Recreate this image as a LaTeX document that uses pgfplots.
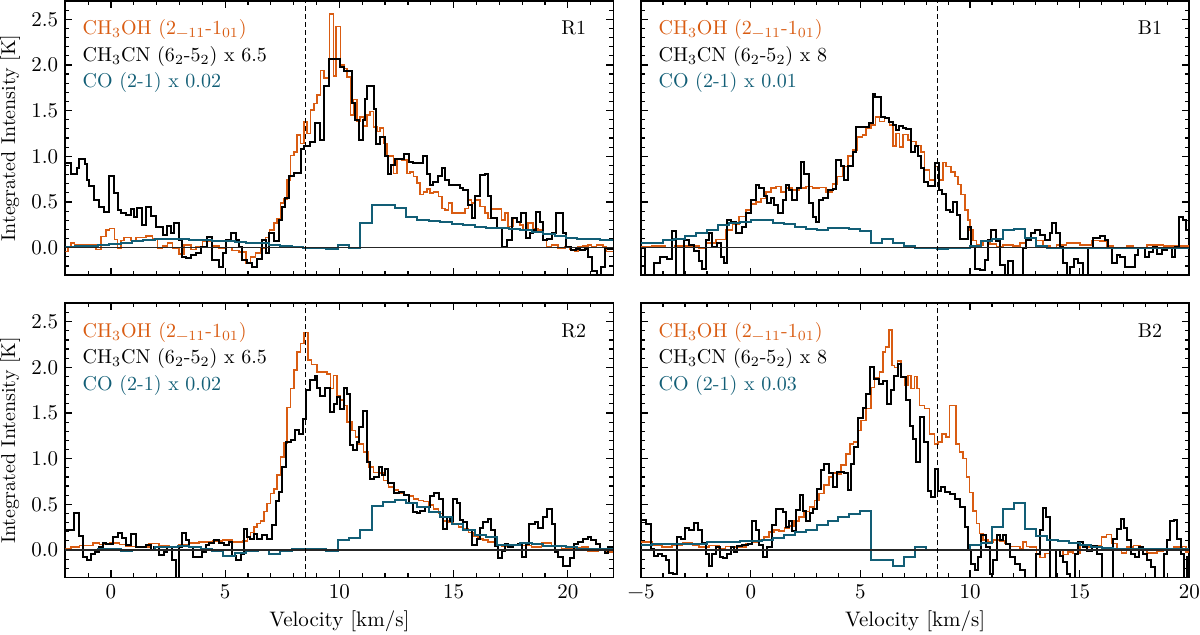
\documentclass[border=0pt]{standalone}
\usepackage{fontspec}
\usepackage{pgfplots}
\usepackage{pgfplotstable}
\pgfplotsset{compat=1.18}
\usepgfplotslibrary{groupplots}

\definecolor{meth}{RGB}{217,92,18}
\definecolor{cogas}{RGB}{18,94,118}

% ---------------- R1 ----------------
\pgfplotstableread{
v I
-2.0 -0.04
-1.88 0.0
-1.75 0.05
-1.60 0.03
-0.66 -0.02
-0.44 0.12
-0.22 0.19
-0.07 0.21
0.15 0.09
0.29 -0.01
0.44 0.08
0.58 0.11
0.87 0.08
1.09 0.11
1.53 0.13
1.82 0.10
2.04 -0.01
2.26 0.02
2.47 0.05
2.69 -0.01
2.98 -0.07
3.20 0.03
3.49 -0.02
3.71 0.01
4.00 0.07
4.44 0.02
4.73 -0.01
5.02 0.00
5.31 -0.03
5.60 -0.05
5.90 -0.17
6.11 -0.10
6.33 -0.06
6.55 -0.01
6.77 0.11
6.94 0.19
7.13 0.27
7.28 0.32
7.42 0.49
7.57 0.53
7.71 0.74
7.86 1.01
8.01 1.05
8.15 1.23
8.30 1.14
8.44 1.38
8.59 1.25
8.73 1.51
8.88 1.58
9.02 1.67
9.17 1.94
9.32 1.86
9.56 2.56
9.75 1.88
9.85 2.42
10.04 2.00
10.19 1.96
10.33 1.87
10.48 1.45
10.62 1.62
10.77 1.38
10.91 1.43
11.06 1.33
11.20 1.45
11.35 1.49
11.50 1.32
11.64 1.27
11.79 1.31
11.93 1.14
12.08 1.01
12.22 1.00
12.37 0.81
12.52 0.97
12.74 0.96
12.95 0.81
13.10 0.83
13.24 0.78
13.39 0.71
13.53 0.58
13.68 0.61
13.83 0.64
13.97 0.60
14.12 0.61
14.34 0.56
14.48 0.43
14.63 0.41
14.77 0.49
14.92 0.38
15.50 0.43
15.65 0.52
15.79 0.49
15.94 0.52
16.16 0.45
16.37 0.38
16.52 0.32
16.66 0.42
17.10 0.30
17.25 0.38
17.39 0.23
17.61 0.32
17.76 0.28
17.90 0.25
18.05 0.19
18.27 0.27
18.48 0.21
18.70 0.19
18.92 0.09
19.07 0.01
19.29 0.03
19.58 -0.01
19.87 0.01
20.09 -0.02
20.30 -0.04
20.45 0.01
20.67 0.02
20.89 0.03
21.03 0.01
21.25 0.03
21.54 0.01
21.69 -0.04
22.0 -0.04
}\rOneMeth

\pgfplotstableread{
v I
-2.0 0.93
-1.75 0.81
-1.50 0.87
-1.38 0.97
-1.16 0.92
-1.06 0.74
-0.95 0.67
-0.73 0.52
-0.51 0.44
-0.29 0.39
-0.07 0.78
0.15 0.60
0.29 0.41
0.44 0.38
0.66 0.36
0.87 0.42
1.02 0.34
1.16 0.43
1.35 0.25
1.53 0.44
1.75 0.35
1.97 0.23
2.26 0.14
2.47 0.24
2.62 0.16
2.77 0.27
2.98 0.08
3.10 -0.10
3.28 -0.11
3.49 -0.08
3.71 -0.06
3.93 0.01
4.22 0.12
4.44 -0.13
4.73 -0.21
4.91 -0.06
5.02 0.08
5.24 0.16
5.46 0.08
5.60 0.01
5.75 -0.13
5.97 -0.17
6.19 -0.21
6.40 -0.12
6.62 0.08
6.77 -0.06
6.94 0.16
7.13 0.07
7.35 0.30
7.50 0.45
7.64 0.54
7.79 0.78
8.01 0.82
8.30 1.08
8.44 1.11
8.73 1.16
8.95 1.36
9.17 1.18
9.32 1.77
9.53 2.07
10.04 1.98
10.19 1.93
10.55 1.58
10.67 1.40
10.87 1.18
11.02 1.40
11.13 1.63
11.23 1.77
11.50 1.52
11.60 1.13
11.79 1.21
11.98 1.00
12.12 0.81
12.25 0.90
12.42 0.97
12.85 1.02
13.03 0.94
13.24 0.93
13.68 1.00
13.83 0.81
13.97 0.69
14.12 0.72
14.31 0.78
14.48 0.87
14.63 0.74
14.80 0.69
15.28 0.65
15.43 0.63
15.65 0.47
15.79 0.32
15.94 0.57
16.16 0.80
16.37 0.81
16.52 0.56
16.66 0.32
16.88 0.21
17.10 0.01
17.32 0.08
17.54 0.32
17.76 0.28
17.95 0.38
18.19 0.11
18.34 0.16
18.48 0.19
18.59 0.39
18.78 0.28
18.92 0.08
19.07 0.10
19.29 0.16
19.50 0.38
19.80 0.16
19.94 0.01
20.13 -0.03
20.34 -0.01
20.52 -0.03
20.74 -0.01
20.89 -0.10
21.06 -0.26
21.28 -0.35
21.44 -0.21
21.62 0.00
21.76 -0.02
22.0 -0.02
}\rOneCN

\pgfplotstableread{
v I
-2.0 0.01
-1.58 0.02
-1.08 0.02
-0.58 0.03
-0.08 0.04
0.42 0.05
0.92 0.07
1.42 0.08
1.92 0.09
2.42 0.09
2.92 0.09
3.42 0.08
3.92 0.08
4.42 0.07
4.92 0.07
5.42 0.06
5.92 0.05
6.42 0.05
6.92 0.03
7.42 0.02
7.92 0.01
8.42 0.00
8.92 0.00
9.42 -0.02
9.92 0.03
10.42 0.00
10.92 0.27
11.42 0.47
11.92 0.47
12.42 0.43
12.92 0.34
13.42 0.30
13.92 0.29
14.42 0.28
14.92 0.26
15.42 0.25
15.92 0.23
16.42 0.22
16.92 0.21
17.42 0.20
17.92 0.19
18.42 0.17
18.92 0.15
19.42 0.13
19.92 0.11
20.42 0.10
20.92 0.09
21.42 0.08
22.0 0.08
}\rOneCO

% ---------------- B1 ----------------
\pgfplotstableread{
v I
-5.0 0.01
-4.51 0.02
-3.90 0.00
-3.45 0.02
-2.50 0.02
-2.36 -0.01
-2.06 0.05
-1.60 0.09
-1.15 0.19
-0.84 0.26
-0.54 0.34
-0.23 0.41
0.00 0.48
0.23 0.50
0.46 0.54
0.69 0.61
0.92 0.65
1.14 0.67
1.37 0.61
1.60 0.65
1.90 0.63
2.21 0.65
2.51 0.67
2.82 0.65
3.12 0.66
3.43 0.61
3.73 0.70
3.96 0.78
4.19 0.89
4.42 1.00
4.65 1.07
4.87 1.21
5.10 1.23
5.26 1.31
5.48 1.34
5.68 1.43
5.87 1.38
6.10 1.42
6.32 1.34
6.48 1.11
6.63 1.25
6.78 1.10
6.93 1.24
7.16 1.18
7.31 1.16
7.54 1.12
7.77 1.05
7.92 0.85
8.15 0.74
8.38 0.89
8.58 0.74
8.76 0.93
8.91 0.89
9.14 0.83
9.30 0.78
9.45 0.69
9.60 0.58
9.76 0.41
9.91 0.30
10.01 0.19
10.13 0.08
10.29 0.03
10.59 0.07
10.90 0.04
11.20 0.01
11.51 0.03
11.96 0.02
12.27 0.05
12.57 0.08
12.80 0.11
13.03 0.08
13.33 0.02
13.64 0.00
13.94 0.03
14.40 0.05
15.01 0.03
15.55 0.08
15.93 0.07
16.23 0.02
16.53 0.00
17.14 0.02
17.45 0.00
18.06 0.03
18.82 0.02
19.28 0.02
20.0 0.02
}\bOneMeth

\pgfplotstableread{
v I
-5.0 0.00
-4.83 -0.35
-4.42 -0.17
-4.12 -0.10
-3.81 -0.12
-3.58 0.18
-3.40 -0.35
-3.05 0.08
-2.82 0.03
-2.59 -0.04
-2.36 -0.15
-2.21 -0.23
-2.06 0.08
-1.91 0.16
-1.76 0.01
-1.53 0.05
-1.37 -0.10
-1.22 -0.17
-1.07 0.30
-0.92 0.28
-0.69 0.16
-0.38 0.23
-0.23 0.38
0.00 0.52
0.23 0.69
0.38 0.65
0.61 0.56
0.76 0.49
0.92 0.54
1.07 0.47
1.22 0.38
1.45 0.52
1.60 0.69
1.75 0.63
1.90 0.52
2.13 0.65
2.29 0.94
2.44 0.81
2.67 0.49
2.82 0.34
2.97 0.28
3.12 0.52
3.28 0.54
3.50 0.63
3.73 0.64
3.88 0.96
4.12 0.89
4.27 0.74
4.42 0.89
4.65 1.05
4.80 1.32
5.41 1.36
5.56 1.68
5.68 1.65
5.94 1.43
6.10 1.42
6.32 1.38
6.48 1.34
6.63 1.29
6.78 1.33
6.93 1.31
7.09 1.30
7.31 1.05
7.47 1.11
7.62 1.00
7.77 0.87
7.92 0.72
8.08 0.67
8.38 0.93
8.58 0.63
8.73 0.59
8.91 0.41
9.07 0.39
9.22 0.50
9.40 0.36
9.56 0.10
9.76 0.09
9.91 0.23
10.06 0.01
10.21 -0.23
10.44 -0.24
10.67 -0.13
10.82 0.08
10.97 0.19
11.20 0.07
11.36 -0.19
11.58 -0.35
11.73 -0.15
11.96 -0.35
12.42 0.00
12.57 0.08
12.80 0.16
12.95 0.19
13.18 0.14
13.41 0.08
13.64 0.16
13.76 0.27
13.94 0.16
14.10 0.01
14.25 -0.17
14.40 -0.35
14.58 -0.21
14.74 -0.12
14.93 -0.17
15.13 -0.35
15.39 0.00
15.59 0.11
15.93 0.13
16.15 0.08
16.31 0.00
16.46 -0.17
16.69 -0.08
16.84 -0.10
17.07 -0.21
17.30 -0.21
17.53 -0.08
17.68 0.00
17.98 -0.10
18.14 -0.05
18.36 0.01
18.52 -0.07
18.74 -0.03
18.97 0.00
19.20 -0.10
19.35 0.01
19.51 0.34
19.70 0.30
19.86 0.19
20.0 0.19
}\bOneCN

\pgfplotstableread{
v I
-5.0 0.05
-4.5 0.05
-4.0 0.08
-3.5 0.09
-3.0 0.13
-2.5 0.16
-2.0 0.19
-1.5 0.25
-1.0 0.27
-0.5 0.28
0.0 0.30
0.5 0.30
1.0 0.27
1.5 0.26
2.0 0.23
2.5 0.20
3.0 0.19
3.5 0.21
4.0 0.22
4.5 0.20
5.0 0.18
5.5 0.05
6.0 0.09
6.5 0.05
7.0 0.02
7.5 0.00
8.0 0.00
8.5 -0.01
9.0 0.00
9.5 0.00
10.0 0.02
10.5 0.07
11.0 0.10
11.5 0.19
12.0 0.20
12.5 0.11
13.0 0.02
13.5 0.00
20.0 0.00
}\bOneCO

% ---------------- R2 ----------------
\pgfplotstableread{
v I
-2.0 0.01
-1.75 0.03
-1.38 0.05
-0.80 0.08
-0.51 0.06
-0.07 0.08
0.37 0.06
0.66 0.04
1.09 0.03
1.67 0.07
2.11 0.05
2.55 0.04
2.98 0.06
3.42 0.08
3.86 0.09
4.44 0.10
4.88 0.11
5.31 0.09
5.75 0.10
5.97 0.14
6.11 0.19
6.26 0.25
6.40 0.29
6.55 0.32
6.69 0.42
6.84 0.51
6.99 0.62
7.13 0.67
7.28 0.82
7.42 1.02
7.57 1.17
7.71 1.56
7.86 1.77
8.01 1.97
8.15 2.17
8.30 2.26
8.44 2.38
8.63 2.08
8.78 2.03
9.02 1.95
9.46 1.93
9.61 1.77
9.75 1.91
9.90 1.69
10.04 1.64
10.19 1.58
10.33 1.40
10.55 1.31
10.70 1.24
10.84 1.16
11.06 1.07
11.28 0.91
11.50 0.85
11.72 0.84
11.93 0.76
12.15 0.69
12.37 0.66
12.59 0.62
12.81 0.61
13.03 0.59
13.24 0.56
13.46 0.54
13.68 0.53
13.90 0.49
14.12 0.45
14.34 0.40
14.55 0.32
14.77 0.31
14.99 0.28
15.21 0.25
15.43 0.23
15.65 0.19
15.87 0.15
16.08 0.12
16.30 0.11
16.52 0.09
16.81 0.05
17.10 0.04
17.54 0.06
17.98 0.05
18.41 0.03
18.85 0.08
19.29 0.04
19.72 0.01
20.16 0.02
20.60 0.03
20.89 -0.01
21.32 0.00
21.62 -0.02
22.0 -0.02
}\rTwoMeth

\pgfplotstableread{
v I
-2.0 0.22
-1.60 0.40
-1.38 0.15
-1.24 -0.08
-1.06 -0.11
-0.87 -0.04
-0.68 -0.02
-0.51 0.03
-0.36 0.08
-0.22 0.07
0.10 0.14
0.29 0.19
0.48 0.13
0.66 0.06
0.87 0.18
1.09 0.03
1.53 0.05
1.75 0.00
1.89 0.03
2.11 -0.05
2.33 -0.02
2.47 0.03
2.69 -0.11
2.84 -0.35
2.98 0.03
3.10 0.19
3.28 0.11
3.42 0.03
3.57 -0.08
3.78 -0.08
4.00 -0.02
4.15 0.05
4.29 0.08
4.51 0.11
4.73 0.08
4.95 0.06
5.17 0.09
5.31 -0.07
5.46 -0.11
5.68 -0.04
5.82 0.23
5.97 0.14
6.07 0.12
6.26 0.18
6.40 0.12
6.62 0.16
6.84 0.12
7.03 0.27
7.21 0.54
7.35 0.63
7.50 0.91
7.67 1.18
7.86 1.20
8.05 1.31
8.25 1.27
8.40 1.43
8.55 1.75
8.73 1.86
8.92 1.90
9.02 1.77
9.17 1.69
9.36 1.77
9.61 1.51
9.75 1.60
9.90 1.67
10.04 1.54
10.19 1.77
10.33 1.71
10.48 1.15
10.58 1.09
10.77 1.18
10.87 1.35
11.02 1.52
11.21 0.96
11.35 0.78
11.50 0.80
11.72 0.91
11.86 0.82
11.98 0.89
12.15 0.73
12.37 0.62
12.59 0.63
12.81 0.60
13.03 0.51
13.24 0.42
13.39 0.40
13.54 0.43
13.75 0.47
13.97 0.59
14.16 0.62
14.34 0.56
14.55 0.23
14.70 0.36
14.85 0.32
14.99 0.56
15.14 0.51
15.28 0.33
15.43 0.31
15.57 0.22
15.79 0.05
16.01 0.12
16.16 0.24
16.30 0.31
16.49 0.34
16.66 0.22
16.81 0.04
16.96 -0.09
17.10 -0.01
17.25 0.07
17.39 0.03
17.61 0.05
17.83 0.07
18.00 -0.08
18.16 0.07
18.29 0.29
18.56 0.31
18.70 0.24
18.92 0.36
19.11 0.45
19.29 0.29
19.43 -0.02
19.58 -0.08
19.80 -0.17
20.09 -0.09
20.28 0.07
20.45 0.09
20.67 0.12
20.89 0.14
21.03 0.11
21.25 0.07
21.40 0.01
21.62 -0.03
21.76 0.03
22.0 0.03
}\rTwoCN

\pgfplotstableread{
v I
-2.0 0.00
-1.58 0.00
-1.08 0.00
-0.58 0.01
-0.08 0.01
0.42 -0.01
0.92 0.00
1.42 0.00
1.92 0.03
2.42 0.03
2.92 0.04
3.42 0.03
3.92 0.01
4.42 -0.01
4.92 -0.06
5.42 -0.03
5.92 -0.01
6.42 0.00
6.92 -0.04
7.42 -0.01
7.92 0.01
8.42 0.01
8.92 0.01
9.42 -0.01
9.92 0.11
10.42 0.13
10.92 0.22
11.42 0.48
11.92 0.53
12.42 0.55
12.92 0.51
13.42 0.47
13.92 0.42
14.42 0.36
14.92 0.29
15.42 0.22
15.92 0.16
16.42 0.14
16.92 0.06
17.42 0.06
17.92 0.08
18.42 0.07
18.92 0.04
19.42 0.04
19.92 0.03
20.42 0.01
20.92 0.01
21.42 0.01
22.0 0.01
}\rTwoCO

% ---------------- B2 ----------------
\pgfplotstableread{
v I
-5.0 0.09
-4.51 0.05
-4.05 0.03
-3.58 0.05
-3.12 0.08
-2.66 0.05
-2.36 0.03
-1.91 0.05
-1.45 0.01
-1.15 0.04
-0.69 0.03
-0.23 0.07
0.07 0.09
0.38 0.11
0.61 0.14
0.84 0.20
1.07 0.22
1.30 0.21
1.53 0.24
1.75 0.26
1.98 0.32
2.21 0.36
2.44 0.42
2.67 0.47
2.90 0.54
3.12 0.62
3.35 0.71
3.58 0.80
3.73 0.84
3.92 0.83
4.12 0.93
4.34 1.05
4.52 1.16
4.68 1.18
4.87 1.31
5.03 1.42
5.26 1.55
5.48 1.78
5.64 1.88
5.87 1.95
6.02 2.17
6.14 2.22
6.29 2.41
6.44 2.02
6.55 2.00
6.70 2.07
6.86 1.90
7.01 1.80
7.16 1.91
7.31 1.77
7.47 1.90
7.57 1.77
7.70 1.58
7.92 1.55
8.15 1.27
8.38 1.16
8.53 1.18
8.73 1.27
8.91 1.24
9.07 1.58
9.37 1.16
9.52 1.07
9.68 1.00
9.83 0.80
9.98 0.63
10.13 0.43
10.29 0.29
10.44 0.18
10.59 0.11
10.82 0.09
11.05 0.11
11.36 0.10
11.58 0.07
11.81 0.04
12.27 0.01
12.42 0.09
12.57 0.04
12.72 0.03
13.03 -0.04
13.18 -0.08
13.41 -0.04
13.64 0.00
14.25 -0.05
14.48 -0.02
14.70 -0.04
15.01 0.05
15.32 0.03
15.54 0.00
15.77 0.05
16.00 0.14
16.23 0.17
16.46 0.07
16.69 0.00
16.91 -0.03
17.14 0.03
17.45 0.05
17.75 0.01
18.06 -0.03
18.52 -0.01
18.82 0.00
19.28 0.03
19.66 0.04
19.86 -0.02
20.0 -0.02
}\bTwoMeth

\pgfplotstableread{
v I
-5.0 0.33
-4.80 0.29
-4.57 0.01
-4.42 -0.06
-4.22 -0.04
-4.04 -0.06
-3.89 -0.11
-3.74 -0.25
-3.55 -0.26
-3.36 0.14
-3.20 0.12
-3.00 0.24
-2.82 0.22
-2.59 0.30
-2.40 0.22
-2.21 0.08
-2.06 -0.04
-1.91 -0.17
-1.76 -0.04
-1.60 0.03
-1.42 -0.08
-1.27 -0.09
-1.07 -0.04
-0.92 0.03
-0.76 -0.02
-0.61 0.04
-0.38 0.05
-0.15 0.07
0.04 0.32
0.23 0.22
0.38 0.05
0.56 -0.08
0.76 0.03
0.96 0.27
1.14 0.45
1.45 0.42
1.60 0.25
1.75 0.32
1.90 0.21
2.06 0.44
2.24 0.60
2.39 0.43
2.54 0.32
2.70 0.40
2.85 0.45
3.00 0.67
3.20 0.88
3.35 0.94
3.58 0.84
3.73 0.69
3.92 0.85
4.27 0.84
4.42 0.66
4.57 0.94
4.72 1.13
4.87 1.45
5.10 1.55
5.26 1.71
5.44 2.00
5.64 1.87
5.84 1.82
6.02 1.85
6.20 1.60
6.40 1.75
6.55 1.91
6.70 2.04
6.86 1.89
7.06 1.64
7.24 1.36
7.39 1.22
7.54 0.96
7.70 1.46
7.92 1.18
8.08 0.65
8.23 0.58
8.38 0.89
8.53 0.65
8.69 0.69
8.88 0.63
9.07 0.61
9.30 0.56
9.52 0.47
9.76 0.25
9.91 0.00
10.06 -0.15
10.21 -0.22
10.36 -0.08
10.52 0.16
10.74 0.03
10.90 -0.26
11.05 -0.11
11.23 0.16
11.36 0.11
11.51 0.16
11.66 0.07
11.81 -0.08
12.04 -0.15
12.27 -0.22
12.49 -0.35
13.03 -0.04
13.18 0.22
13.33 0.46
13.48 0.36
13.64 -0.35
13.94 0.00
14.10 -0.06
14.25 -0.13
14.40 -0.26
14.56 -0.35
14.78 -0.04
14.93 0.09
15.16 0.03
15.35 -0.01
15.54 0.04
15.77 -0.04
16.00 -0.35
16.53 0.12
16.72 0.23
16.87 0.34
17.02 0.24
17.17 0.11
17.33 -0.04
17.52 -0.08
17.72 0.03
17.90 -0.04
18.06 -0.11
18.24 -0.19
18.44 -0.35
18.85 -0.04
18.97 0.11
19.12 0.32
19.28 0.33
19.43 0.12
19.61 -0.04
19.76 -0.35
19.89 -0.08
20.0 -0.08
}\bTwoCN

\pgfplotstableread{
v I
-5.0 0.05
-4.5 0.07
-4.0 0.07
-3.5 0.07
-3.0 0.07
-2.5 0.07
-2.0 0.09
-1.5 0.09
-1.0 0.09
-0.5 0.10
0.0 0.10
0.5 0.11
1.0 0.13
1.5 0.16
2.0 0.20
2.5 0.22
3.0 0.27
3.5 0.32
4.0 0.36
4.5 0.39
5.0 0.43
5.5 -0.11
6.0 -0.11
6.5 -0.17
7.0 -0.08
7.5 0.03
8.0 0.00
10.0 0.05
10.5 0.08
11.0 0.25
11.5 0.45
12.0 0.51
12.5 0.23
13.0 0.15
13.5 0.11
14.0 0.10
14.5 0.08
15.0 0.05
15.5 0.03
16.0 0.02
16.5 0.01
20.0 0.01
}\bTwoCO

\pgfplotsset{
  spec/.style={
    scale only axis, width=274pt, height=137pt,
    ymin=-0.3, ymax=2.7,
    ytick={0,0.5,1,1.5,2,2.5},
    minor ytick={-0.2,-0.1,...,2.65},
    tick align=inside, tick pos=both,
    major tick length=3.5pt, minor tick length=2pt,
    tick style={black, line width=0.6pt},
    axis line style={line width=0.9pt},
    yticklabel style={/pgf/number format/.cd, fixed, fixed zerofill, precision=1},
    /pgf/number format/assume math mode=true,
    tick label style={font=\fontsize{10.5}{12}\selectfont},
    xlabel style={font=\fontsize{10.5}{12}\selectfont, at={(axis description cs:0.5,-0.18)}, anchor=base},
    ylabel style={font=\fontsize{10}{12}\selectfont, at={(axis description cs:-0.0815,0.5)}, anchor=south, inner sep=0pt},
  },
  leftcol/.style={xmin=-2, xmax=22, xtick={0,5,10,15,20}, minor xtick={-2,-1,...,22}},
  rightcol/.style={xmin=-5, xmax=20, xtick={-5,0,5,10,15,20}, minor xtick={-5,-4,...,20}},
  meth/.style={const plot mark left, no marks, color=meth, line width=0.8pt},
  cn/.style={const plot mark left, no marks, color=black, line width=1pt},
  cog/.style={const plot mark left, no marks, color=cogas, line width=1pt},
  zero/.style={no marks, color=black!85, line width=0.6pt},
  vsys/.style={no marks, color=black, line width=0.6pt, dash pattern=on 2.6pt off 1.4pt},
}
\tikzset{lbl/.style={inner sep=0pt, font=\fontsize{10}{12}\selectfont}}
% line labels, subscripts set in text
\newcommand{\methlbl}{CH\textsubscript{3}OH (2\textsubscript{−11}-1\textsubscript{01})}
\newcommand{\cnlbl}[1]{CH\textsubscript{3}CN (6\textsubscript{2}-5\textsubscript{2}) x #1}

\begin{document}
\begin{tikzpicture}
\begin{groupplot}[
  group style={group size=2 by 2, horizontal sep=13.85pt, vertical sep=14.15pt},
  spec,
]
% R1
\nextgroupplot[leftcol, xticklabels={}, ylabel={Integrated Intensity [K]}]
\coordinate (tl) at (rel axis cs:0,1);
\addplot[meth] table[x=v, y=I] {\rOneMeth};
\addplot[cn] table[x=v, y=I] {\rOneCN};
\addplot[cog] table[x=v, y=I] {\rOneCO};
\addplot[zero] coordinates {(-2,0) (22,0)};
\addplot[vsys] coordinates {(8.5,-0.3) (8.5,2.7)};
\node[lbl, anchor=base west, text=meth] at (axis description cs:0.031,0.876) {\methlbl};
\node[lbl, anchor=base west, text=black] at (axis description cs:0.031,0.781) {\cnlbl{6.5}};
\node[lbl, anchor=base west, text=cogas] at (axis description cs:0.031,0.683) {CO (2-1) x 0.02};
\node[lbl, anchor=base east] at (axis description cs:0.951,0.876) {R1};

% B1
\nextgroupplot[rightcol, xticklabels={}, yticklabels={}]
\addplot[meth] table[x=v, y=I] {\bOneMeth};
\addplot[cn] table[x=v, y=I] {\bOneCN};
\addplot[cog] table[x=v, y=I] {\bOneCO};
\addplot[zero] coordinates {(-5,0) (20,0)};
\addplot[vsys] coordinates {(8.5,-0.3) (8.5,2.7)};
\node[lbl, anchor=base west, text=meth] at (axis description cs:0.031,0.876) {\methlbl};
\node[lbl, anchor=base west, text=black] at (axis description cs:0.031,0.781) {\cnlbl{8}};
\node[lbl, anchor=base west, text=cogas] at (axis description cs:0.031,0.683) {CO (2-1) x 0.01};
\node[lbl, anchor=base east] at (axis description cs:0.951,0.876) {B1};

% R2
\nextgroupplot[leftcol, ylabel={Integrated Intensity [K]}, xlabel={Velocity [km/s]}]
\addplot[meth] table[x=v, y=I] {\rTwoMeth};
\addplot[cn] table[x=v, y=I] {\rTwoCN};
\addplot[cog] table[x=v, y=I] {\rTwoCO};
\addplot[zero] coordinates {(-2,0) (22,0)};
\addplot[vsys] coordinates {(8.5,-0.3) (8.5,2.7)};
\node[lbl, anchor=base west, text=meth] at (axis description cs:0.031,0.876) {\methlbl};
\node[lbl, anchor=base west, text=black] at (axis description cs:0.031,0.781) {\cnlbl{6.5}};
\node[lbl, anchor=base west, text=cogas] at (axis description cs:0.031,0.683) {CO (2-1) x 0.02};
\node[lbl, anchor=base east] at (axis description cs:0.951,0.876) {R2};

% B2
\nextgroupplot[rightcol, yticklabels={}, xticklabels={−5,0,5,10,15,20}, xlabel={Velocity [km/s]}]
\coordinate (br) at (rel axis cs:1,0);
\addplot[meth] table[x=v, y=I] {\bTwoMeth};
\addplot[cn] table[x=v, y=I] {\bTwoCN};
\addplot[cog] table[x=v, y=I] {\bTwoCO};
\addplot[zero] coordinates {(-5,0) (20,0)};
\addplot[vsys] coordinates {(8.5,-0.3) (8.5,2.7)};
\node[lbl, anchor=base west, text=meth] at (axis description cs:0.031,0.876) {\methlbl};
\node[lbl, anchor=base west, text=black] at (axis description cs:0.031,0.781) {\cnlbl{8}};
\node[lbl, anchor=base west, text=cogas] at (axis description cs:0.031,0.683) {CO (2-1) x 0.03};
\node[lbl, anchor=base east] at (axis description cs:0.951,0.876) {B2};
\end{groupplot}
\pgfresetboundingbox
\path[use as bounding box] ([xshift=-32.65pt,yshift=0.5pt]tl) rectangle ([xshift=5.35pt,yshift=-28.65pt]br);
\end{tikzpicture}
\end{document}
